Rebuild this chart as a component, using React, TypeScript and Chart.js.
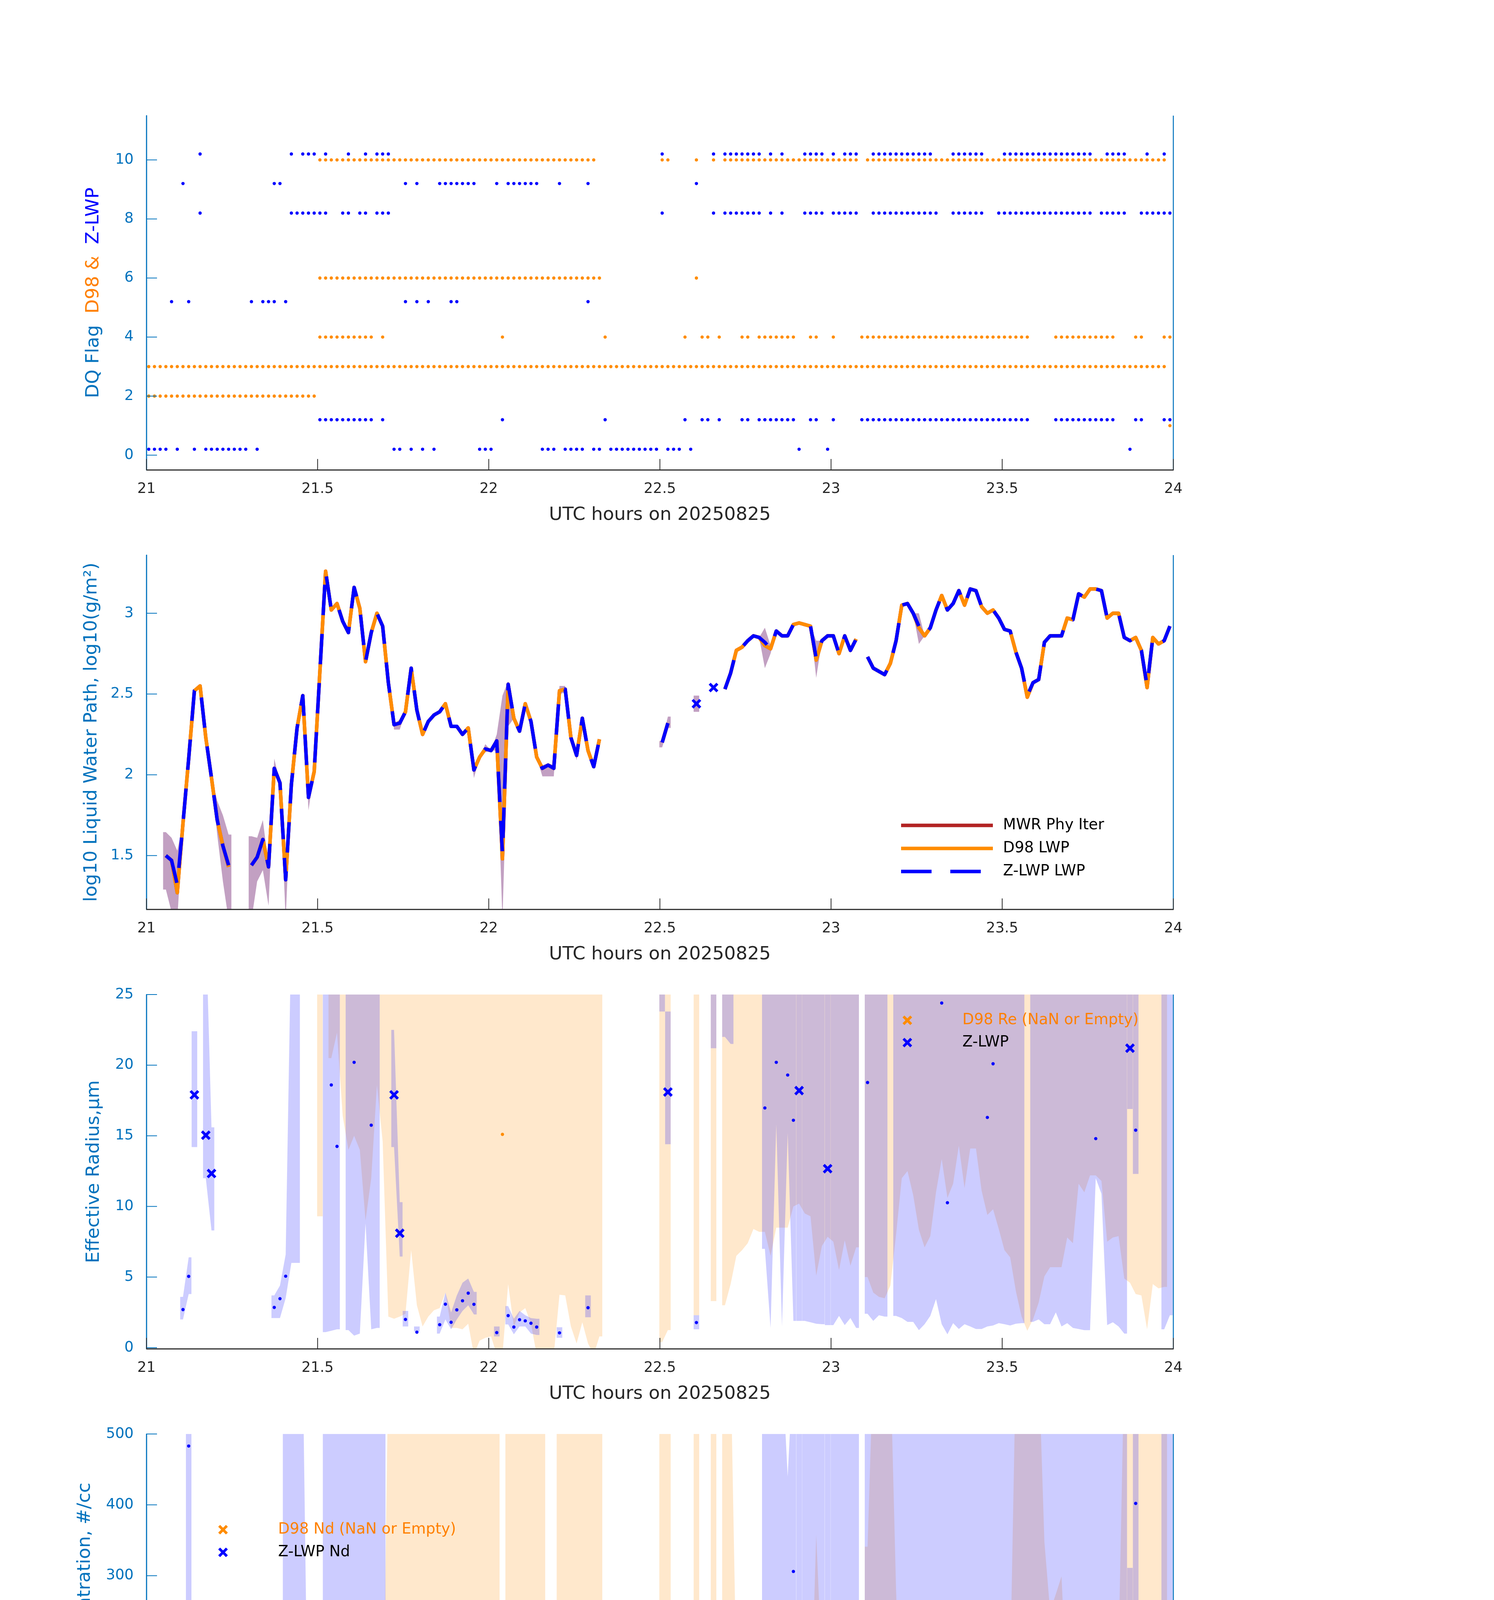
import { useEffect, useRef } from 'react';
import { Chart, registerables } from 'chart.js';

Chart.register(...registerables);

// ---------- style constants ----------
const FONT = '"DejaVu Sans", "Noto Sans", sans-serif';
const AXIS_BLUE = 'rgb(0,114,189)';
const AXIS_DARK = 'rgb(38,38,38)';
const ORANGE = 'rgb(255,140,0)';
const ORANGE_TEXT = 'rgb(255,128,0)';
const BLUE = 'rgb(0,0,255)';
const DARK_RED = 'rgb(178,34,34)';
const ORANGE_FILL = 'rgba(255,140,0,0.2)';
const BLUE_FILL = 'rgba(0,0,255,0.2)';
const LWP_BAND_FILL = 'rgb(194,160,194)';

// ---------- time grid (1-minute samples from 21 UTC) ----------
const N_MIN = 180;
const HOUR_START = 21;
const SAMPLE_OFFSET_MIN = 0.4;
const X_TICKS = [21, 21.5, 22, 22.5, 23, 23.5, 24];
const X_TITLE = 'UTC hours on 20250825';

// ---------- panel 1: DQ flags (minute indices per flag level) ----------
const D98_FLAG_LEVELS = [10, 6, 4, 3, 2, 1];
const D98_FLAG_10 = '30-78,90,91,96,99,101-124,126-178';
const D98_FLAG_6 = '30-79,96';
const D98_FLAG_4 = '30-39,41,62,80,94,97,98,100,104,105,107-113,116,117,120,125-154,159-169,173,174,178,179';
const D98_FLAG_3 = '0-178';
const D98_FLAG_2 = '0-29';
const D98_FLAG_1 = '179';
const Z_FLAG_LEVELS = [10.2, 9.2, 8.2, 5.2, 1.2, 0.2];
const Z_FLAG_10 = '9,25,27-29,31,35,38,40-42,90,99,101-107,109,111,115-118,120,122-124,127-137,141-146,150-165,168-171,175,178';
const Z_FLAG_9 = '6,22,23,45,47,51-57,61,63-68,72,77,96';
const Z_FLAG_8 = '9,25-31,34,35,37,38,40-42,90,99,101-107,109,111,115-118,120-124,127-138,141-146,149-165,167-171,174-179';
const Z_FLAG_5 = '4,7,18,20-22,24,45,47,49,53,54,77';
const Z_FLAG_1 = '30-39,41,62,80,94,97,98,100,104,105,107-113,116,117,120,125-154,159-169,173,174,178,179';
const Z_FLAG_0 = '0-3,5,8,10-17,19,43,44,46,48,50,58-60,69-71,73-76,78,79,81-89,91-93,95,114,119,172';
const FLAG_Y_TICKS = [0, 2, 4, 6, 8, 10];

// ---------- panel 2: log10 LWP ----------
const LWP_Z = '3:1.50,4:1.47,5:1.32,6:1.70,7:2.10,8:2.52,9:2.55,10:2.23,11:1.98,12:1.72,13:1.56,14:1.44,18:1.44,19:1.49,20:1.60,21:1.43,22:2.04,23:1.95,24:1.35,25:1.94,26:2.29,27:2.49,28:1.86,29:2.02,30:2.64,31:3.26,32:3.02,33:3.06,34:2.95,35:2.88,36:3.16,37:3.03,38:2.70,39:2.88,40:3.00,41:2.92,42:2.57,43:2.31,44:2.32,45:2.39,46:2.66,47:2.40,48:2.25,49:2.33,50:2.37,51:2.39,52:2.44,53:2.30,54:2.30,55:2.25,56:2.29,57:2.03,58:2.11,59:2.16,60:2.15,61:2.21,62:1.51,63:2.56,64:2.35,65:2.27,66:2.44,67:2.33,68:2.11,69:2.04,70:2.06,71:2.04,72:2.52,73:2.53,74:2.23,75:2.12,76:2.35,77:2.15,78:2.05,79:2.22,90:2.20,91:2.32,101:2.53,102:2.63,103:2.77,104:2.79,105:2.83,106:2.86,107:2.85,108:2.82,109:2.78,110:2.89,111:2.86,112:2.86,113:2.93,114:2.94,115:2.93,116:2.92,117:2.72,118:2.83,119:2.86,120:2.86,121:2.75,122:2.86,123:2.77,124:2.84,126:2.73,127:2.66,128:2.64,129:2.62,130:2.69,131:2.83,132:3.05,133:3.06,134:3.00,135:2.92,136:2.86,137:2.91,138:3.02,139:3.11,140:3.02,141:3.06,142:3.14,143:3.05,144:3.15,145:3.14,146:3.04,147:3.00,148:3.02,149:2.97,150:2.90,151:2.89,152:2.76,153:2.66,154:2.49,155:2.57,156:2.59,157:2.82,158:2.86,159:2.86,160:2.86,161:2.97,162:2.96,163:3.12,164:3.10,165:3.15,166:3.15,167:3.14,168:2.97,169:3.00,170:3.00,171:2.85,172:2.83,173:2.85,174:2.77,175:2.55,176:2.85,177:2.81,178:2.83,179:2.92';
const LWP_D98 = '3:1.50,4:1.47,5:1.27,6:1.70,7:2.10,8:2.52,9:2.55,10:2.23,11:1.98,12:1.72,13:1.56,14:1.43,18:1.44,19:1.49,20:1.60,21:1.43,22:2.04,23:1.95,24:1.35,25:1.94,26:2.29,27:2.49,28:1.86,29:2.02,30:2.64,31:3.26,32:3.02,33:3.06,34:2.95,35:2.88,36:3.16,37:3.03,38:2.70,39:2.88,40:3.00,41:2.92,42:2.57,43:2.31,44:2.32,45:2.39,46:2.66,47:2.40,48:2.25,49:2.33,50:2.37,51:2.39,52:2.44,53:2.30,54:2.30,55:2.25,56:2.29,57:2.03,58:2.11,59:2.16,60:2.15,61:2.21,62:1.48,63:2.56,64:2.35,65:2.27,66:2.44,67:2.33,68:2.11,69:2.04,70:2.06,71:2.04,72:2.52,73:2.53,74:2.23,75:2.12,76:2.35,77:2.15,78:2.05,79:2.22,90:2.20,91:2.32,101:2.53,102:2.63,103:2.77,104:2.79,105:2.83,106:2.86,107:2.85,108:2.80,109:2.78,110:2.89,111:2.86,112:2.86,113:2.93,114:2.94,115:2.93,116:2.92,117:2.71,118:2.83,119:2.86,120:2.86,121:2.75,122:2.86,123:2.77,124:2.84,126:2.73,127:2.66,128:2.64,129:2.62,130:2.69,131:2.83,132:3.05,133:3.06,134:3.00,135:2.91,136:2.86,137:2.91,138:3.02,139:3.11,140:3.02,141:3.06,142:3.14,143:3.05,144:3.15,145:3.14,146:3.04,147:3.00,148:3.02,149:2.97,150:2.90,151:2.89,152:2.76,153:2.66,154:2.48,155:2.57,156:2.59,157:2.82,158:2.86,159:2.86,160:2.86,161:2.97,162:2.96,163:3.12,164:3.10,165:3.15,166:3.15,167:3.14,168:2.97,169:3.00,170:3.00,171:2.85,172:2.83,173:2.85,174:2.77,175:2.54,176:2.85,177:2.81,178:2.83,179:2.92';
const LWP_MWR = LWP_D98;
const LWP_Z_ISOLATED = '96:2.44,99:2.54';
const LWP_BAND = '3:1.29/1.645,4:1.15/1.61,5:1.10/1.53,12:1.63/1.84,13:1.34/1.75,14:1.10/1.63,18:1.10/1.62,19:1.34/1.61,20:1.41/1.72,21:1.19/1.44,22:2.00/2.10,24:1.10/1.37,28:1.78/1.88,43:2.28/2.32,44:2.28/2.34,57:1.98/2.05,59:2.14/2.19,61:2.15/2.25,62:1.10/2.49,63:2.30/2.58,69:1.99/2.06,70:1.99/2.07,71:1.99/2.06,72:2.50/2.55,73:2.51/2.55,75:2.09/2.14,90:2.17/2.21,91:2.29/2.36,96:2.39/2.49,108:2.66/2.91,109:2.75/2.80,117:2.60/2.83,135:2.81/3.00';
const LWP_Y_TICKS = [1.5, 2, 2.5, 3];
const LWP_LEGEND = ['MWR Phy Iter', 'D98 LWP', 'Z-LWP LWP'];

// ---------- panel 3: effective radius ----------
const RE_Z = '6:2.7,7:5.05,22:2.85,23:3.47,24:5.06,32:18.6,33:14.25,36:20.2,39:15.75,45:2.0,47:1.1,51:1.63,52:3.08,53:1.8,54:2.68,55:3.32,56:3.86,57:3.07,61:1.07,63:2.27,64:1.46,65:1.98,66:1.9,67:1.73,68:1.46,72:1.05,77:2.83,96:1.78,108:16.97,110:20.2,112:19.3,113:16.1,126:18.77,139:24.4,140:10.26,147:16.3,148:20.1,166:14.8,173:15.4';
const RE_Z_CROSS = '8:17.9,10:15.04,11:12.33,43:17.9,44:8.1,91:18.1,114:18.2,119:12.67,172:21.2';
const RE_D98 = '62:15.1';
const RE_Z_BAND = '6:2.0/3.6,7:3.8/6.4,22:2.1/3.7,23:2.1/4.4,24:3.5/6.6,25:6/30,26:6/30,31:1.1/30,32:1.2/30,33:1.3/30,35:1.25/30,36:0.85/30,37:1.0/30,38:8.8/30,39:1.3/30,40:1.4/30,45:1.5/2.6,47:1.15/1.5,51:1.0/2.2,52:2.0/3.9,53:1.3/2.5,54:2.0/3.7,55:2.6/4.6,56:3.0/4.9,57:2.35/3.95,61:0.8/1.5,63:1.65/2.95,64:0.95/2.05,65:1.5/2.6,66:1.5/2.3,67:1.0/2.1,68:0.9/2.05,72:0.7/1.45,77:2.15/3.7,90:23.8/30,96:1.3/2.3,99:21.2/30,101:22/30,102:21.5/30,108:7/30,109:1.4/30,110:15.8/30,111:1.5/30,112:15.2/30,113:1.9/30,115:1.9/30,116:1.8/30,117:1.7/30,118:1.66/30,120:1.6/30,121:2.25/30,122:1.6/30,123:2.1/30,124:1.4/30,126:2.4/30,127:1.9/30,128:2.3/30,129:2.2/30,131:2.25/30,132:2.1/30,133:1.83/30,134:1.83/30,135:1.24/30,136:1.66/30,137:2.25/30,138:3.44/30,139:1.66/30,140:0.95/30,141:1.74/30,142:1.32/30,143:1.66/30,144:1.5/30,145:1.32/30,146:1.32/30,147:1.5/30,148:1.57/30,149:1.74/30,150:1.66/30,151:1.57/30,152:1.7/30,153:1.74/30,155:1.83/30,156:2.0/30,157:1.66/30,158:1.66/30,159:2.5/30,160:1.5/30,161:1.74/30,162:1.4/30,163:1.32/30,164:1.24/30,165:1.24/30,166:12.0/30,167:10.9/30,168:1.6/30,169:1.8/30,170:1.5/30,171:1.0/30,173:12.3/30,178:1.3/30,179:2.3/30';
const RE_Z_CROSS_BAND = '8:14.2/22.4,10:12.0/30,11:8.3/15.6,43:14.2/22.5,44:6.45/10.3,91:14.4/23.8,114:1.9/30,119:1.6/30,172:16.9/30';
const RE_D98_BAND = '30:9.3/30,32:20.5/30,33:22.3/30,34:16.4/30,35:14/30,36:15/30,37:14/30,38:9/30,39:12/30,40:18.6/30,41:14.6/30,42:2.2/30,43:2.05/30,44:2.2/30,45:2.4/30,46:6.9/30,47:3.0/30,48:1.5/30,49:2.2/30,50:2.65/30,51:2.8/30,52:3.9/30,53:1.4/30,54:1.4/30,55:1.3/30,56:1.7/30,57:-0.5/30,58:0.5/30,59:0.7/30,60:0.8/30,61:-0.5/30,62:-0.5/30,63:4.5/30,64:1.5/30,65:2.5/30,66:2.8/30,67:1.7/30,68-71:-0.5/30,72:3.75/30,73:3.7/30,74:1.5/30,75:0.3/30,76:1.8/30,77:0.3/30,78:-0.5/30,79:0.8/30,90:0.4/30,91:1.25/30,96:2.3/30,99:3.3/30,101:3.0/30,102:4.5/30,103:6.5/30,104:6.9/30,105:7.4/30,106:8.4/30,107:8.2/30,108:8.2/30,109:6.5/30,110:8.5/30,111:8.5/30,112:8.5/30,113:10/30,114:10.2/30,115:9.5/30,116:9.3/30,117:5.1/30,118:7.2/30,119:7.85/30,120:7.5/30,121:5.5/30,122:7.6/30,123:5.8/30,124:7.1/30,126:5.0/30,127:3.9/30,128:3.6/30,129:3.5/30,130:4.4/30,131:8/30,132:12/30,133:12.5/30,134:10.8/30,135:8.35/30,136:7.1/30,137:7.9/30,138:11/30,139:13.35/30,140:10.6/30,141:11.6/30,142:14.3/30,143:11.3/30,144:14.1/30,145:14.1/30,146:11.1/30,147:9.4/30,148:9.8/30,149:8.4/30,150:6.9/30,151:6.4/30,152:4.0/30,153:2.2/30,154:1.2/30,155:2.0/30,156:3.2/30,157:5.05/30,158:5.7/30,159:5.7/30,160:5.7/30,161:7.8/30,162:7.4/30,163:11.6/30,164:11.0/30,165:12.2/30,166:12.2/30,167:11.8/30,168:7.5/30,169:7.8/30,170:7.9/30,171:4.9/30,172:4.6/30,173:3.8/30,174:3.7/30,175:1.3/30,176:4.5/30,177:4.2/30,178:4.3/30';
const RE_Y_TICKS = [0, 5, 10, 15, 20, 25];
const RE_LEGEND = ['D98 Re (NaN or Empty)', 'Z-LWP'];

// ---------- panel 4: droplet concentration ----------
const ND_Z = '7:483,9:2.4,24:196,25:1,26:5.7,27:0,28:0,29:2.7,30:23,31:4,33:260,34:14.5,35:0,36:263,37:23.6,38:0,39:232,40:0.7,41:0,42:1,90:0,99:1.7,101:1.7,102:2.4,103-105:0.5,106:1,107:3.4,108:121,109:0,110:76,111:0,112:217,113:306,115-116:0,117:3,118-120:0,121:7.4,122:3.4,123-124:0,126:76,127-137:0.5,138:12,139:45,140-146:0,147:199,148:58,149:7,150:2.4,151-166:0,167:225,168:0,169:1.7,170:1,171:2.4,173:402,174:65,175:0,176:27,177:5,178:0,179:75';
const ND_Z_CROSS = '8:11.8,10:43,11:17.9,43:8.4,44:112,91:10.8,114:172,172:155';
const ND_D98 = '30-61:0,62:1.7,63-78:0,79:5,90-91:0,96:0,99:0,101-124:0,126-178:0';
const ND_Z_BAND = '7:226/600,9:0/8,24:59/600,25:3/600,26-27:0/600,28:0/3,29:0/10,31-41:0/600,99:0/3,108-111:0/600,112:0/440,113:0/600,115-118:0/600,120-124:0/600,126-171:0/600,173:0/600,176:0/150,178-179:0/600';
const ND_Z_CROSS_BAND = '8:0/23.6,10:0/86,11:8.4/245,43:0/17,44:56/227,91:0/22,114:0/600,119:0/600,172:0/311';
const ND_D98_BAND = '30:0/71,31:0/8,32:0/13.5,33:0/15,34:0/17,35:0/20,36:0/10,37:0/17,38:0/59,39:0/20,40:0/12,41:0/20,42-61:0/600,63-69:0/600,72-79:0/600,90-91:0/600,96:0/600,99:0/600,101-102:0/600,103:0/159,104:0/154,105:0/135,106:0/106,107:0/122,108:0/162,109:0/198,110:0/125,111:0/120,112:0/127,113:0/81,114:0/76,115:0/84,116:0/88,117:0/358,118:0/169,119:0/140,120:0/142,121:0/258,122:0/128,123:0/264,124:0/140,126:0/341,127-130:0/600,131:0/280,132:0/51,133:0/46,134:0/66,135:0/111,136:0/191,137:0/152,138:0/69,139:0/37,140:0/62,141:0/51,142:0/34,143:0/57,144:0/35,145:0/34,146:0/54,147:0/68,148:0/62,149:0/90,150:0/142,151:0/166,152-156:0/600,157:0/348,158:0/250,159:0/274,160:0/299,161:0/127,162:0/139,163:0/49,164:0/61,165:0/57,166:0/62,167:0/68,168:0/194,169:0/189,170:0/193,171-178:0/600';
const ND_Y_TICKS = [0, 100, 200, 300, 400, 500];
const ND_LEGEND = ['D98 Nd (NaN or Empty)', 'Z-LWP Nd'];

// ---------- panel 5: optical depth ----------
const OD_Z = '6:27,7:43,9:16.4,22:58.6,23:39.5,24:7.0,25:4.9,26:10.1,27:5.7,28:1.9,29:4.5,30:24.9,31:39.7,32:87.2,34:28.8,35:17.1,37:49.6,38:11.3,39:76.1,40:24.3,41:16.7,42:13.6,55:80.9,56:77.8,57:52.2,77:75.3,90:8.1,99:20.3,101:18.8,102:23.9,103:20.7,104:20.7,105:23.9,106:29.6,107:31.4,108:57.7,109:21.6,110:58.3,111:23.3,112:58.6,113:80,115:17.4,116:21.9,117:23.4,118:18.2,120:14.05,121:21.1,122:24.3,123:8.8,124:10.6,126:44.7,127:9.6,128:5.4,129:4.3,130:9.7,131:9.9,132:14.5,133:24.5,134:23.4,135:23.8,136:11.4,137:12.2,138:50.9,139:80,141:21.4,142:30.7,143:23.8,144:29,145:32.7,146:23.1,147:94.3,148:79.1,149:47.6,150:32.6,151:17.1,152:15.3,153:10.1,154:9.1,155:4.9,156:7.4,157:8.5,158:10.5,159:11.3,160:11,161:14.7,162:14,163:24.5,164:29.4,165:28.5,167:83.4,168:22.8,169:29.2,170:26.4,171:26.6,173:70.5,174:37,175:7.9,176:28.2,177:21.2,178:15,179:50.5';
const OD_Z_CROSS = '8:28.2,10:17.8,11:12.6,43:17.6,44:39,91:17.9,114:74.2,119:88.4,172:48.8';
const OD_D98 = '30:6.4,31:6.76,32:6.6,33:6.6,34:6.55,35:6.55,36:6.76,37:6.7,38:6.5,39:6.55,40:6.55,41:6.55,42:6.28,43:5.9,44:5.95,45:6.08,46:6.35,47:6.08,48:5.8,49:5.95,50:6.0,51:6.0,52:6.08,53:5.88,54:5.88,55:5.8,56:5.88,57:5.14,58:5.33,59:5.54,60:5.47,61:5.6,62:3.24,63:6.28,64:5.95,65:5.88,66:6.15,67:5.88,68:5.4,69:5.27,70:5.27,71:5.27,72:6.28,73:6.28,74:5.6,75:5.4,76:6.0,77:5.54,78:5.2,79:5.8,90:5.7,91:5.9,96:6.2,99:6.4,101:6.4,102:6.55,103:6.7,104-124:6.76,126:6.7,127-130:6.55,131-152:6.9,153:6.4,154:6.35,155:6.55,156:6.55,157-178:6.9';
const OD_Z_BAND = '6:16/40,7:33.5/55.4,9:11.1/20.6,22:45.3/76.4,23:35/63.5,24:3.4/11.8,25:3.4/6.5,26:4.7/56.7,27:3.4/7,28:1.4/3,29:3.5/6,30:25.5/84.8,31:19.6/120,32:15.5/120,33:29.7/120,34:14.9/120,35:13.9/120,36:31/120,37:21.6/120,38:9.5/120,39:25/120,40:21.3/120,41:13.2/120,42:10.8/20,55:63.5/120,56:60.8/120,57:40.2/67.9,77:57.6/98,90:6.4/10.1,99:16.4/25.5,101:14.7/23.6,102:17.5/30,103:16.9/26.3,104:16.7/26,105:18.8/29.7,106:24.1/37.5,107:24.7/39,108:20.7/120,109:17.2/120,110:25.3/120,111:18.6/120,112:17.9/120,113:21.8/120,115:14/120,116:17.4/120,117:12.5/120,118:14.5/120,120:11.1/120,121:9.5/120,122:11.8/120,123:7.4/120,124:8.8/120,126:7.4/120,127:6.5/120,128:4.5/120,129:3.4/120,130:5.5/120,131:8.9/120,132:13.9/120,133:18.6/120,134:17.2/120,135:13.2/120,136:9.1/120,137:11.1/120,138:15.5/120,139:23.6/120,140:18.9/120,141:17.2/120,142:24/120,143:18.2/120,144:22.3/120,145:25.7/120,146:18.6/120,147:20.6/120,148:23/120,149:19.6/120,150:15.9/120,151:13.2/120,152:12.2/120,153:6.8/120,154:3.7/120,155:4.4/120,156:6.8/120,157:8.4/120,158:8.8/120,159:8.8/120,160:8.8/120,161:13.5/120,162:16.2/120,163:19.9/120,164:23.3/120,165:23/120,166:25.7/120,167:29.7/120,168:18.6/120,169:24/120,170:21.1/120,171:21.3/120,173:18.6/120,174:13.5/30,175:5.4/12,176:10.5/41,177:10.5/20,178:12.2/120,179:26.7/120';
const OD_Z_CROSS_BAND = '8:22.6/35.5,10:8.2/22.3,11:10.1/18.7,43:14.2/22,44:30.5/49,91:13.6/22.4,114:17.5/120,119:17.9/120,172:22.3/61.5';
const OD_D98_BAND = '30:6.0/84.8,31:6.2/73.3,32:6.1/76.7,33:6.1/76.7,34:6.0/79,35:6.0/81.4,36:6.2/76.4,37:6.1/78.7,38:6.0/89.5,39:6.0/82.8,40:6.0/80.4,41:6.0/83.1,42:5.8/96,43-56:5.5/120,57:-1/13.9,58:2/120,59-61:5.0/120,62:-1/8.1,63:5.5/120,64-68:5.3/120,69:-1/120,70-71:-1/6,72:-1/120,73-76:5.4/120,77-78:-1/120,79:5.3/120,90:5.2/120,91:5.4/120,96:5.7/120,99:5.9/120,101-124:6.2/120,126-178:6.3/120';
const OD_Y_TICKS = [0, 20, 40, 60, 80, 100];
const OD_LEGEND = ['D98 OD (NaN or Empty)', 'Z-LWP Nd'];

// ---------- layout (pixels) ----------
const PAGE_W = 3825;
const PAGE_H = 6000;
const PLOT_LEFT = 375;
const PLOT_RIGHT = 3004;
const PLOT_H = 907;
const CANVAS_H = 1200;
const TOP_PAD = 140;
const PANEL_TOPS = [296, 1421, 2546, 3671, 4797];
const YTITLE_CENTER = [240, 235, 241, 218, 218];

// ---------- parsing helpers ----------
function runsToIdx(s: string): number[] {
  const out: number[] = [];
  for (const part of s.split(',')) {
    const p = part.trim();
    if (!p) continue;
    const bits = p.split('-');
    const a = Number(bits[0]);
    const b = bits.length > 1 ? Number(bits[1]) : a;
    for (let i = a; i <= b; i++) out.push(i);
  }
  return out;
}
function parseSeries(s: string): (number | null)[] {
  const arr: (number | null)[] = new Array(N_MIN).fill(null);
  for (const part of s.split(',')) {
    const [k, v] = part.split(':');
    for (const i of runsToIdx(k)) arr[i] = Number(v);
  }
  return arr;
}
function parseBand(s: string): { lo: (number | null)[]; hi: (number | null)[] } {
  const lo: (number | null)[] = new Array(N_MIN).fill(null);
  const hi: (number | null)[] = new Array(N_MIN).fill(null);
  for (const part of s.split(',')) {
    const [k, v] = part.split(':');
    const [a, b] = v.split('/').map(Number);
    for (const i of runsToIdx(k)) { lo[i] = a; hi[i] = b; }
  }
  return { lo, hi };
}
const tx = (m: number) => HOUR_START + (m + SAMPLE_OFFSET_MIN) / 60;
const linePoints = (arr: (number | null)[]) => arr.map((v, i) => ({ x: tx(i), y: v }));
const dotPoints = (arr: (number | null)[]) => {
  const out: any[] = [];
  arr.forEach((v, i) => { if (v != null) out.push({ x: tx(i), y: v }); });
  return out;
};
function bandPoints(lo: (number | null)[], hi: (number | null)[]) {
  const L: any[] = [];
  const H: any[] = [];
  let i = 0;
  while (i < N_MIN) {
    if (lo[i] == null || hi[i] == null) { i++; continue; }
    let j = i;
    while (j + 1 < N_MIN && lo[j + 1] != null && hi[j + 1] != null) j++;
    L.push({ x: tx(i - 0.5), y: lo[i] });
    H.push({ x: tx(i - 0.5), y: hi[i] });
    for (let k = i; k <= j; k++) { L.push({ x: tx(k), y: lo[k] }); H.push({ x: tx(k), y: hi[k] }); }
    L.push({ x: tx(j + 0.5), y: lo[j] });
    H.push({ x: tx(j + 0.5), y: hi[j] });
    L.push({ x: tx(j + 0.5) + 1e-7, y: null });
    H.push({ x: tx(j + 0.5) + 1e-7, y: null });
    i = j + 1;
  }
  return { L, H };
}

// ---------- dataset builders ----------
const bandSets = (lo: any, hi: any, color: string, order: number) => {
  const { L, H } = bandPoints(lo, hi);
  return [
    { data: L, borderColor: 'rgba(0,0,0,0)', borderWidth: 0, pointRadius: 0, fill: false, order, spanGaps: false },
    { data: H, borderColor: 'rgba(0,0,0,0)', borderWidth: 0, pointRadius: 0, fill: '-1', backgroundColor: color, order, spanGaps: false },
  ];
};
const dotSet = (pts: any[], color: string, order: number, r = 4.2) => ({
  data: pts, showLine: false, pointRadius: r, pointBackgroundColor: color, pointBorderColor: color,
  pointBorderWidth: 0, order, clip: false,
});
const crossSet = (pts: any[], order: number) => ({
  data: pts, showLine: false, pointStyle: 'crossRot', pointRadius: 14, pointBorderWidth: 7,
  pointBorderColor: BLUE, pointBackgroundColor: BLUE, order, clip: false,
});
const lineSet = (arr: any[], color: string, order: number, dash?: number[]) => ({
  data: linePoints(arr), borderColor: color, borderWidth: 9, pointRadius: 0, fill: false,
  borderDash: dash || [], order, spanGaps: false, tension: 0, borderJoinStyle: 'round',
});

function panelDatasets(i: number): any[] {
  if (i === 0) {
    const d98 = [D98_FLAG_10, D98_FLAG_6, D98_FLAG_4, D98_FLAG_3, D98_FLAG_2, D98_FLAG_1];
    const z = [Z_FLAG_10, Z_FLAG_9, Z_FLAG_8, Z_FLAG_5, Z_FLAG_1, Z_FLAG_0];
    const sets: any[] = [];
    z.forEach((runs, k) => sets.push(dotSet(runsToIdx(runs).map((m) => ({ x: tx(m), y: Z_FLAG_LEVELS[k] })), BLUE, 1)));
    d98.forEach((runs, k) => sets.push(dotSet(runsToIdx(runs).map((m) => ({ x: tx(m), y: D98_FLAG_LEVELS[k] })), ORANGE, 2)));
    return sets;
  }
  if (i === 1) {
    const z = parseSeries(LWP_Z);
    const iso = parseSeries(LWP_Z_ISOLATED);
    const band = parseBand(LWP_BAND);
    const lo = z.map((v, k) => { const b = v ?? iso[k]; return b == null ? null : (band.lo[k] ?? b); });
    const hi = z.map((v, k) => { const b = v ?? iso[k]; return b == null ? null : (band.hi[k] ?? b); });
    return [
      crossSet(dotPoints(iso), 1),
      lineSet(z, BLUE, 2, [78, 48]),
      lineSet(parseSeries(LWP_D98), ORANGE, 3),
      lineSet(parseSeries(LWP_MWR), DARK_RED, 4),
      ...bandSets(lo, hi, LWP_BAND_FILL, 10),
    ];
  }
  const spec = i === 2
    ? { z: RE_Z, zc: RE_Z_CROSS, d: RE_D98, zb: RE_Z_BAND, zcb: RE_Z_CROSS_BAND, db: RE_D98_BAND }
    : i === 3
      ? { z: ND_Z, zc: ND_Z_CROSS, d: ND_D98, zb: ND_Z_BAND, zcb: ND_Z_CROSS_BAND, db: ND_D98_BAND }
      : { z: OD_Z, zc: OD_Z_CROSS, d: OD_D98, zb: OD_Z_BAND, zcb: OD_Z_CROSS_BAND, db: OD_D98_BAND };
  const zb = parseBand(spec.zb);
  const zcb = parseBand(spec.zcb);
  const db = parseBand(spec.db);
  return [
    crossSet(dotPoints(parseSeries(spec.zc)), 1),
    dotSet(dotPoints(parseSeries(spec.z)), BLUE, 2),
    dotSet(dotPoints(parseSeries(spec.d)), ORANGE, 3),
    ...bandSets(zb.lo, zb.hi, BLUE_FILL, 10),
    ...bandSets(zcb.lo, zcb.hi, BLUE_FILL, 11),
    ...bandSets(db.lo, db.hi, ORANGE_FILL, 12),
  ];
}

const Y_RANGES = [
  { min: -0.5, max: 11.5, ticks: FLAG_Y_TICKS, title: '' },
  { min: 1.167, max: 3.36, ticks: LWP_Y_TICKS, title: 'log10 Liquid Water Path, log10(g/m²)' },
  { min: -0.08, max: 25, ticks: RE_Y_TICKS, title: 'Effective Radius,μm' },
  { min: 0, max: 500, ticks: ND_Y_TICKS, title: 'Droplet Concentration, #/cc' },
  { min: 0, max: 100, ticks: OD_Y_TICKS, title: 'Optical Depth' },
];

// marker legends: [markerX, textX, row1 offset from plot top, row2 offset]
const MARKER_LEGEND_POS: Record<number, number[]> = {
  2: [2323, 2464, 66, 123],
  3: [571, 712, 245, 303],
  4: [2096, 2238, 64, 122],
};
const MARKER_LEGEND_TEXT: Record<number, string[]> = { 2: RE_LEGEND, 3: ND_LEGEND, 4: OD_LEGEND };

const fmt = (v: any) => String(+Number(v).toFixed(3));

function drawCross(ctx: CanvasRenderingContext2D, x: number, y: number, color: string) {
  const d = 9.9;
  ctx.save();
  ctx.strokeStyle = color;
  ctx.lineWidth = 7;
  ctx.beginPath();
  ctx.moveTo(x - d, y - d); ctx.lineTo(x + d, y + d);
  ctx.moveTo(x - d, y + d); ctx.lineTo(x + d, y - d);
  ctx.stroke();
  ctx.restore();
}

const decorPlugin = {
  id: 'panelDecor',
  afterDatasetsDraw(chart: any) {
    const { ctx, chartArea: a, scales } = chart;
    const seg = (x1: number, y1: number, x2: number, y2: number) => {
      ctx.beginPath(); ctx.moveTo(x1, y1); ctx.lineTo(x2, y2); ctx.stroke();
    };
    ctx.save();
    ctx.lineCap = 'butt';
    ctx.lineWidth = 2.5;
    ctx.strokeStyle = AXIS_BLUE;
    seg(a.left, a.top, a.left, a.bottom);
    seg(a.right, a.top, a.right, a.bottom);
    ctx.strokeStyle = AXIS_DARK;
    seg(a.left, a.bottom, a.right, a.bottom);
    ctx.lineWidth = 2;
    ctx.strokeStyle = AXIS_BLUE;
    for (const t of scales.y.ticks) {
      const y = scales.y.getPixelForValue(t.value);
      seg(a.left, y, a.left + 27, y);
    }
    ctx.strokeStyle = AXIS_DARK;
    for (const t of scales.x.ticks) {
      const x = scales.x.getPixelForValue(t.value);
      seg(x, a.bottom, x, a.bottom - 28);
    }
    ctx.restore();
  },
  afterDraw(chart: any, _args: any, opts: any) {
    const { ctx, chartArea: a } = chart;
    const idx = opts.index;
    ctx.save();
    ctx.textBaseline = 'middle';
    ctx.textAlign = 'left';
    if (idx === 0) {
      ctx.font = `47px ${FONT}`;
      const parts: [string, string][] = [['DQ Flag  ', AXIS_BLUE], ['D98 &  ', ORANGE_TEXT], ['Z-LWP', BLUE]];
      const total = parts.reduce((s, p) => s + ctx.measureText(p[0]).width, 0);
      ctx.translate(YTITLE_CENTER[0], (a.top + a.bottom) / 2);
      ctx.rotate(-Math.PI / 2);
      let x = -total / 2;
      for (const [t, c] of parts) { ctx.fillStyle = c; ctx.fillText(t, x, 0); x += ctx.measureText(t).width; }
    } else if (idx === 1) {
      ctx.font = `38.5px ${FONT}`;
      const rows = [692, 751, 810];
      const colors = [DARK_RED, ORANGE, BLUE];
      rows.forEach((r, k) => {
        const y = a.top + r;
        ctx.strokeStyle = colors[k];
        ctx.lineWidth = 9;
        ctx.setLineDash(k === 2 ? [78, 48] : []);
        ctx.beginPath(); ctx.moveTo(2307, y); ctx.lineTo(2542, y); ctx.stroke();
        ctx.setLineDash([]);
        ctx.fillStyle = 'rgb(0,0,0)';
        ctx.fillText(LWP_LEGEND[k], 2568, y);
      });
    } else {
      const [mx, txX, r1, r2] = MARKER_LEGEND_POS[idx];
      const labels = MARKER_LEGEND_TEXT[idx];
      ctx.font = `38.5px ${FONT}`;
      drawCross(ctx, mx, a.top + r1, ORANGE);
      drawCross(ctx, mx, a.top + r2, BLUE);
      ctx.fillStyle = ORANGE_TEXT;
      ctx.fillText(labels[0], txX, a.top + r1);
      ctx.fillStyle = 'rgb(0,0,0)';
      ctx.fillText(labels[1], txX, a.top + r2);
    }
    ctx.restore();
  },
};

function buildConfig(i: number): any {
  const yr = Y_RANGES[i];
  return {
    type: 'line',
    data: { datasets: panelDatasets(i) },
    plugins: [decorPlugin],
    options: {
      animation: false,
      responsive: false,
      maintainAspectRatio: false,
      devicePixelRatio: 1,
      events: [],
      layout: { padding: { left: 0, top: TOP_PAD, right: PAGE_W - PLOT_RIGHT, bottom: 0 } },
      plugins: {
        legend: { display: false },
        tooltip: { enabled: false },
        filler: { propagate: false },
        panelDecor: { index: i },
      },
      scales: {
        x: {
          type: 'linear',
          min: X_TICKS[0],
          max: X_TICKS[X_TICKS.length - 1],
          afterBuildTicks: (s: any) => { s.ticks = X_TICKS.map((v) => ({ value: v })); },
          afterFit: (s: any) => { s.height = CANVAS_H - TOP_PAD - PLOT_H; },
          grid: { display: false, drawTicks: false },
          border: { display: true, color: AXIS_DARK, width: 2.5 },
          ticks: { color: AXIS_DARK, font: { family: FONT, size: 37 }, padding: 27, maxRotation: 0, autoSkip: false, callback: fmt },
          title: { display: true, text: X_TITLE, color: AXIS_DARK, font: { family: FONT, size: 47 }, padding: { top: 0, bottom: 9 } },
        },
        y: {
          type: 'linear',
          min: yr.min,
          max: yr.max,
          afterBuildTicks: (s: any) => { s.ticks = yr.ticks.map((v) => ({ value: v })); },
          afterFit: (s: any) => { s.width = PLOT_LEFT; },
          grid: { display: false, drawTicks: false },
          border: { display: true, color: AXIS_BLUE, width: 2.5 },
          ticks: { color: AXIS_BLUE, font: { family: FONT, size: 37 }, padding: 33, autoSkip: false, callback: fmt },
          title: {
            display: !!yr.title,
            text: yr.title,
            color: AXIS_BLUE,
            font: { family: FONT, size: 47 },
            padding: { top: YTITLE_CENTER[i] - 28.2, bottom: 0 },
          },
        },
      },
    },
  };
}

export default function App() {
  const refs = useRef<(HTMLCanvasElement | null)[]>([]);
  useEffect(() => {
    const prevMargin = document.body.style.margin;
    document.body.style.margin = '0';
    const charts = PANEL_TOPS.map((_, i) => new Chart(refs.current[i] as HTMLCanvasElement, buildConfig(i)));
    return () => {
      charts.forEach((c) => c.destroy());
      document.body.style.margin = prevMargin;
    };
  }, []);
  return (
    <div style={{ position: 'relative', width: PAGE_W, height: PAGE_H, background: '#ffffff', overflow: 'hidden' }}>
      {PANEL_TOPS.map((t, i) => (
        <canvas
          key={i}
          ref={(el) => { refs.current[i] = el; }}
          width={PAGE_W}
          height={CANVAS_H}
          style={{ position: 'absolute', left: 0, top: t - TOP_PAD, width: PAGE_W, height: CANVAS_H }}
        />
      ))}
    </div>
  );
}
